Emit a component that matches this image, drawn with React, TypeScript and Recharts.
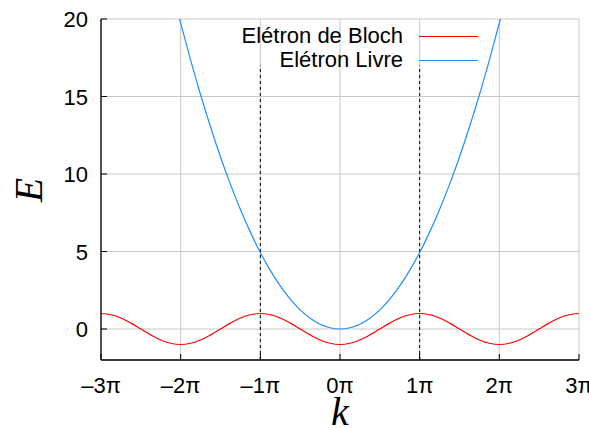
import React from 'react';
import {
  LineChart,
  Line,
  XAxis,
  YAxis,
  CartesianGrid,
  ReferenceLine,
  Legend,
  Label,
} from 'recharts';

// k in units of pi, sampled every pi/8
const K_PI = [
  -3, -2.875, -2.75, -2.625, -2.5, -2.375, -2.25, -2.125,
  -2, -1.875, -1.75, -1.625, -1.5, -1.375, -1.25, -1.125,
  -1, -0.875, -0.75, -0.625, -0.5, -0.375, -0.25, -0.125,
  0, 0.125, 0.25, 0.375, 0.5, 0.625, 0.75, 0.875,
  1, 1.125, 1.25, 1.375, 1.5, 1.625, 1.75, 1.875,
  2, 2.125, 2.25, 2.375, 2.5, 2.625, 2.75, 2.875,
  3,
];

// Bloch electron band
const BLOCH = [
  1, 0.92, 0.71, 0.38, 0, -0.38, -0.71, -0.92,
  -1, -0.92, -0.71, -0.38, 0, 0.38, 0.71, 0.92,
  1, 0.92, 0.71, 0.38, 0, -0.38, -0.71, -0.92,
  -1, -0.92, -0.71, -0.38, 0, 0.38, 0.71, 0.92,
  1, 0.92, 0.71, 0.38, 0, -0.38, -0.71, -0.92,
  -1, -0.92, -0.71, -0.38, 0, 0.38, 0.71, 0.92,
  1,
];

// free electron parabola (runs off the top past |k| = 2pi)
const LIVRE = [
  null, null, null, null, null, null, null, 22.28,
  19.74, 17.35, 15.11, 13.03, 11.1, 9.33, 7.71, 6.25,
  4.93, 3.78, 2.78, 1.93, 1.23, 0.69, 0.31, 0.08,
  0, 0.08, 0.31, 0.69, 1.23, 1.93, 2.78, 3.78,
  4.93, 6.25, 7.71, 9.33, 11.1, 13.03, 15.11, 17.35,
  19.74, 22.28, null, null, null, null, null, null,
  null,
];

const X_TICKS = [-3, -2, -1, 0, 1, 2, 3];
const Y_TICKS = [0, 5, 10, 15, 20];
const ZONE_EDGES = [-1, 1];
const ZONE_TOP = 17;

const SERIES = [
  { key: 'bloch', name: 'Elétron de Bloch', color: '#ff0000' },
  { key: 'livre', name: 'Elétron Livre', color: '#1e8fff' },
];

const data = K_PI.map((k, i) => ({ k, bloch: BLOCH[i], livre: LIVRE[i] }));

const FONT = '"Liberation Sans", Arial, Helvetica, sans-serif';
const TICK_LEN = 6;

const fmtPi = (v: number) => (v < 0 ? '\u2013' + Math.abs(v) : String(v)) + 'π';

const BottomTick = ({ x, y, payload }: any) => (
  <g>
    <line x1={x} y1={y} x2={x} y2={y - TICK_LEN} stroke="#000" />
    <text x={x} y={y + 33} textAnchor="middle" fontSize={22} fontFamily={FONT} fill="#000">
      {fmtPi(payload.value)}
    </text>
  </g>
);

const TopTick = ({ x, y }: any) => (
  <line x1={x} y1={y} x2={x} y2={y + TICK_LEN} stroke="#000" />
);

const LeftTick = ({ x, y, payload }: any) => (
  <g>
    <line x1={x} y1={y} x2={x + TICK_LEN} y2={y} stroke="#000" />
    <text x={x - 13} y={y + 8} textAnchor="end" fontSize={22} fontFamily={FONT} fill="#000">
      {payload.value}
    </text>
  </g>
);

const RightTick = ({ x, y }: any) => (
  <line x1={x} y1={y} x2={x - TICK_LEN} y2={y} stroke="#000" />
);

const renderLegend = () => (
  <div style={{ fontFamily: FONT, fontSize: 22, color: '#000' }}>
    {SERIES.map((s) => (
      <div key={s.key} style={{ display: 'flex', alignItems: 'center', height: 24 }}>
        <span style={{ width: 203, textAlign: 'right', whiteSpace: 'nowrap' }}>{s.name}</span>
        <span
          style={{
            display: 'inline-block',
            marginLeft: 16,
            width: 59,
            height: 0,
            borderTop: `1.2px solid ${s.color}`,
          }}
        />
      </div>
    ))}
  </div>
);

const App: React.FC = () => {
  return (
    <div style={{ position: 'absolute', left: 0, top: 0, background: '#fff' }}>
      <LineChart width={589} height={428} data={data} margin={{ top: 19, right: 10, bottom: 0, left: 0 }}>
        <CartesianGrid stroke="#c8c8c8" strokeWidth={1} />
        <XAxis
          dataKey="k"
          type="number"
          domain={[-3, 3]}
          ticks={X_TICKS}
          interval={0}
          allowDataOverflow
          height={68}
          tickSize={0}
          tickMargin={0}
          tickLine={false}
          tick={BottomTick}
          axisLine={{ stroke: '#000', strokeWidth: 1.3 }}
        >
          <Label
            content={() => (
              <text x={340} y={425} textAnchor="middle" fontSize={40} fontStyle="italic" fontFamily='"Liberation Serif", "Times New Roman", serif' fill="#000">
                k
              </text>
            )}
          />
        </XAxis>
        <XAxis
          xAxisId="top"
          orientation="top"
          type="number"
          domain={[-3, 3]}
          ticks={X_TICKS}
          interval={0}
          allowDataOverflow
          height={0}
          tickSize={0}
          tickMargin={0}
          tickLine={false}
          tick={TopTick}
          axisLine={{ stroke: '#000', strokeWidth: 1.3 }}
        />
        <YAxis
          type="number"
          domain={[-2, 20]}
          ticks={Y_TICKS}
          interval={0}
          allowDataOverflow
          width={101}
          tickSize={0}
          tickMargin={0}
          tickLine={false}
          tick={LeftTick}
          axisLine={{ stroke: '#000', strokeWidth: 1.3 }}
        >
          <Label
            content={() => (
              <text x={42} y={190} textAnchor="middle" transform="rotate(-90 42 190)" fontSize={40} fontStyle="italic" fontFamily='"Liberation Serif", "Times New Roman", serif' fill="#000">
                E
              </text>
            )}
          />
        </YAxis>
        <YAxis
          yAxisId="right"
          orientation="right"
          type="number"
          domain={[-2, 20]}
          ticks={Y_TICKS}
          interval={0}
          allowDataOverflow
          width={0}
          tickSize={0}
          tickMargin={0}
          tickLine={false}
          tick={RightTick}
          axisLine={{ stroke: '#000', strokeWidth: 1.3 }}
        />
        {ZONE_EDGES.map((x) => (
          <ReferenceLine
            key={x}
            segment={[
              { x, y: -2 },
              { x, y: ZONE_TOP },
            ]}
            stroke="#000"
            strokeWidth={1}
            strokeDasharray="3 3"
          />
        ))}
        {SERIES.map((s) => (
          <Line
            key={s.key}
            type="monotone"
            dataKey={s.key}
            name={s.name}
            stroke={s.color}
            strokeWidth={1.2}
            dot={false}
            connectNulls={false}
            isAnimationActive={false}
          />
        ))}
        <Legend
          layout="vertical"
          align="center"
          verticalAlign="middle"
          content={renderLegend}
          wrapperStyle={{ left: 200, top: 24, width: 300 }}
        />
      </LineChart>
    </div>
  );
};

export default App;
